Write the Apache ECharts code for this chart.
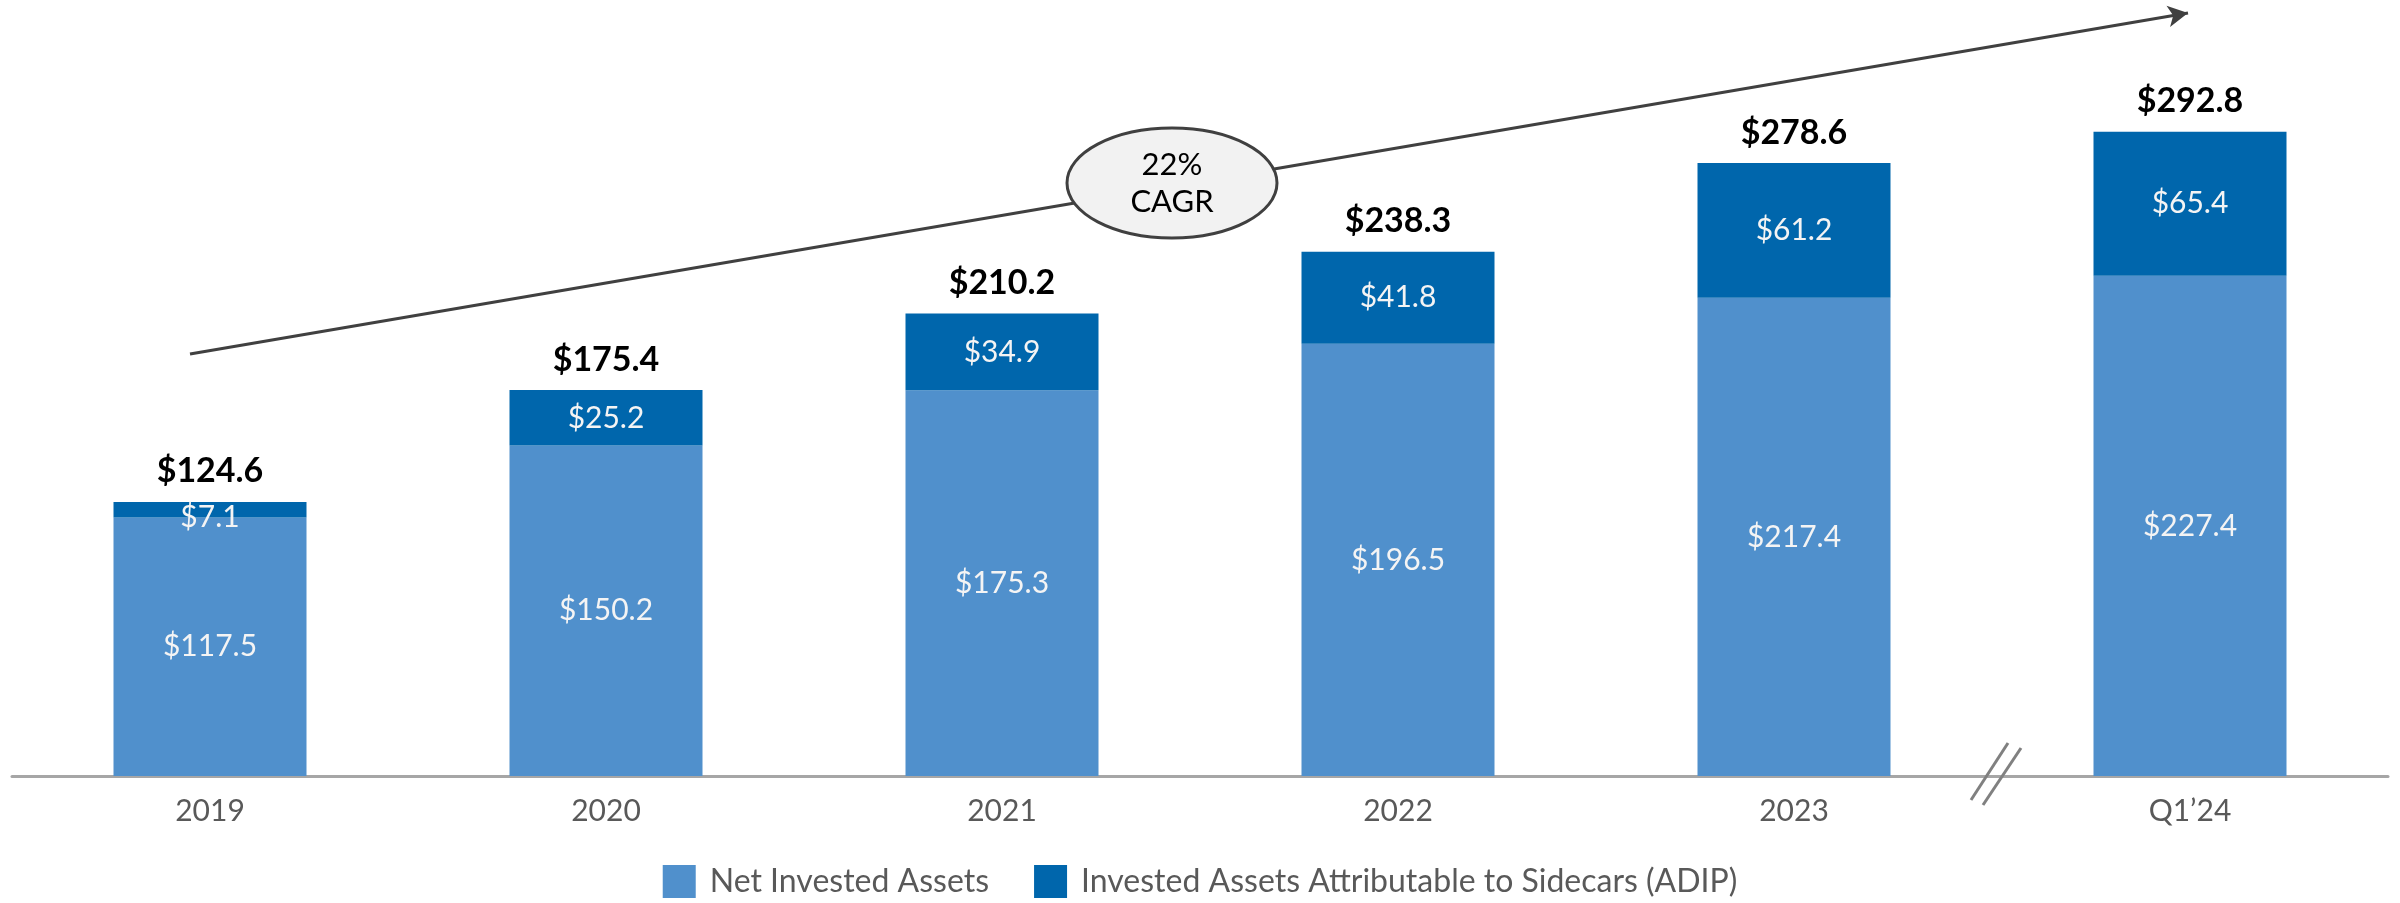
<!DOCTYPE html>
<html lang="en">
<head>
  <meta charset="UTF-8">
  <title>Invested Assets</title>
  <style>
    * {
      padding: 0;
      margin: 0;
    }

    #chart {
      width: 2400px;
      height: 903px;
    }
  </style>
</head>
<body>
  <div id="chart"></div>

  <script src="https://cdn.jsdelivr.net/npm/echarts@6/dist/echarts.min.js"></script>
  <script>
    const categories = ['2019', '2020', '2021', '2022', '2023', 'Q1\u201924'];
    const netAssets = [117.5, 150.2, 175.3, 196.5, 217.4, 227.4];
    const sidecarAssets = [7.1, 25.2, 34.9, 41.8, 61.2, 65.4];
    const totals = [124.6, 175.4, 210.2, 238.3, 278.6, 292.8];

    const font = 'Lato, "Noto Sans", sans-serif';
    const chart = echarts.init(document.getElementById('chart'));

    // thin segments: push the label down a little so it sits over the bar
    const sidecarData = sidecarAssets.map(v => v < 10
      ? { value: v, label: { offset: [0, 8] } }
      : v);

    let option = {
      animation: false,
      textStyle: { fontFamily: font },
      grid: { left: 12, right: 12, top: 6, bottom: 127 },
      legend: {
        bottom: 0,
        left: 'center',
        itemWidth: 33,
        itemHeight: 33,
        itemGap: 45,
        icon: 'rect',
        data: ['Net Invested Assets', 'Invested Assets Attributable to Sidecars (ADIP)'],
        textStyle: { fontSize: 32, color: '#595959', fontFamily: font, padding: [0, 0, 0, 9] }
      },
      xAxis: {
        type: 'category',
        data: categories,
        axisTick: { show: false },
        axisLine: { lineStyle: { color: '#a6a6a6', width: 3 } },
        axisLabel: { fontSize: 30, color: '#595959', margin: 20, fontFamily: font }
      },
      yAxis: {
        type: 'value',
        min: 0,
        max: 350,
        show: false,
        splitLine: { show: false }
      },
      series: [
        {
          name: 'Net Invested Assets',
          type: 'bar',
          stack: 'total',
          barWidth: 193,
          data: netAssets,
          itemStyle: { color: '#5090cc' },
          label: {
            show: true,
            position: 'inside',
            fontSize: 30,
            color: '#f4f4f4',
            fontFamily: font,
            formatter: p => '$' + p.value.toFixed(1)
          }
        },
        {
          name: 'Invested Assets Attributable to Sidecars (ADIP)',
          type: 'bar',
          stack: 'total',
          barWidth: 193,
          data: sidecarData,
          itemStyle: { color: '#0066ac' },
          label: {
            show: true,
            position: 'inside',
            fontSize: 30,
            color: '#f4f4f4',
            fontFamily: font,
            formatter: p => '$' + p.value.toFixed(1)
          }
        },
        {
          // invisible line, only carries the total labels and the CAGR arrow
          name: 'Total',
          type: 'line',
          data: totals,
          symbol: 'circle',
          symbolSize: 1,
          itemStyle: { color: 'rgba(0,0,0,0)' },
          lineStyle: { color: 'rgba(0,0,0,0)' },
          silent: true,
          z: 5,
          label: {
            show: true,
            position: 'top',
            distance: 13,
            fontSize: 34,
            fontWeight: 'bold',
            color: '#000',
            fontFamily: font,
            formatter: p => '$' + p.value.toFixed(1)
          },
          markLine: {
            silent: true,
            symbol: ['none', 'arrow'],
            symbolSize: [16, 20],
            label: { show: false },
            lineStyle: { color: '#404040', width: 3, type: 'solid' },
            data: [[{ x: 190, y: 354 }, { x: 2188, y: 13 }]]
          }
        }
      ],
      graphic: [
        {
          type: 'ellipse',
          z: 100,
          shape: { cx: 1172, cy: 183, rx: 105, ry: 55 },
          style: { fill: '#f2f2f2', stroke: '#404040', lineWidth: 3 }
        },
        {
          type: 'text',
          z: 101,
          x: 1172,
          y: 183,
          style: {
            text: '22%\nCAGR',
            fontSize: 31,
            lineHeight: 37,
            fontFamily: font,
            fill: '#000',
            align: 'center',
            verticalAlign: 'middle'
          }
        },
        {
          type: 'line',
          z: 100,
          shape: { x1: 1971, y1: 800, x2: 2008, y2: 743 },
          style: { stroke: '#808080', lineWidth: 3 }
        },
        {
          type: 'line',
          z: 100,
          shape: { x1: 1983, y1: 805, x2: 2021, y2: 748 },
          style: { stroke: '#808080', lineWidth: 3 }
        }
      ]
    };
    chart.setOption(option);
  </script>
</body>
</html>
